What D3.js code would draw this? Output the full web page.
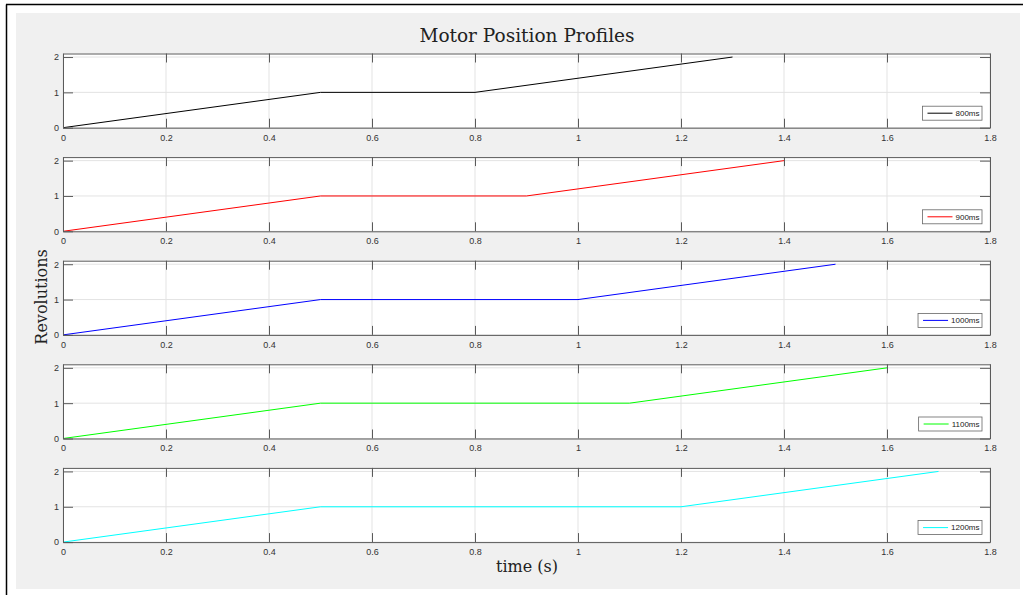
<!DOCTYPE html>
<html>
<head>
<meta charset="utf-8">
<script src="https://cdn.jsdelivr.net/npm/d3@7"></script>
<style>
  body { margin: 0; background: #fff; }
  svg { display: block; }
  .tick text { font-family: "Liberation Sans", Arial, sans-serif; font-size: 9px; fill: #333; }
</style>
</head>
<body>
<div id="chart"></div>
<script>
/* DATA */
const profileNames = ["800ms", "900ms", "1000ms", "1100ms", "1200ms"];
const lineColors = ["#000000", "#ff0000", "#0000ff", "#00ff00", "#00ffff"];
// time (s) of each corner of the profile
const timePoints = [
  [0, 0.5, 0.8, 1.3],
  [0, 0.5, 0.9, 1.4],
  [0, 0.5, 1.0, 1.5],
  [0, 0.5, 1.1, 1.6],
  [0, 0.5, 1.2, 1.7]
];
const revolutions = [0, 1, 1, 2];
const xTicks = [0, 0.2, 0.4, 0.6, 0.8, 1, 1.2, 1.4, 1.6, 1.8];
const yTicks = [0, 1, 2];

/* CONSTANTS */
const width = 1023;
const height = 595;
const left = 63, right = 990;
const panelTop = 53.5;
const panelH = 74.2;
const panelStep = 103.6;

const svg = d3.select("#chart").append("svg")
  .attr("width", width)
  .attr("height", height);

// figure background + frame
svg.append("rect").attr("x", 16).attr("y", 13).attr("width", 1004).attr("height", 576).attr("fill", "#f0f0f0");
svg.append("line").attr("x1", 6.5).attr("x2", 6.5).attr("y1", 4.5).attr("y2", 595).attr("stroke", "#000").attr("stroke-width", 1.5);
svg.append("line").attr("x1", 6).attr("x2", 1023).attr("y1", 4.5).attr("y2", 4.5).attr("stroke", "#000").attr("stroke-width", 1.5);

const xScale = d3.scaleLinear().domain([0, 1.8]).range([left, right]);
const fmt = d3.format("~g");

profileNames.forEach((name, i) => {
  const top = panelTop + i * panelStep;
  const bottom = top + panelH;
  const yScale = d3.scaleLinear().domain([0, 2.1]).range([bottom, top]);
  const g = svg.append("g");

  g.append("rect")
    .attr("x", left).attr("y", top)
    .attr("width", right - left).attr("height", panelH)
    .attr("fill", "#fff");

  // grid
  g.selectAll(".gx").data(xTicks).join("line")
    .attr("x1", d => xScale(d)).attr("x2", d => xScale(d))
    .attr("y1", top).attr("y2", bottom)
    .attr("stroke", "#e3e3e3").attr("stroke-width", 1);
  g.selectAll(".gy").data(yTicks).join("line")
    .attr("x1", left).attr("x2", right)
    .attr("y1", d => yScale(d)).attr("y2", d => yScale(d))
    .attr("stroke", "#e3e3e3").attr("stroke-width", 1);

  // data line
  const pts = timePoints[i].map((t, k) => [t, revolutions[k]]);
  g.append("path")
    .datum(pts)
    .attr("fill", "none")
    .attr("stroke", lineColors[i])
    .attr("stroke-width", 1)
    .attr("d", d3.line().x(d => xScale(d[0])).y(d => yScale(d[1])));

  // axes (MATLAB style: ticks inside, box on)
  const axColor = "#5a5a5a";
  const xAxis = g.append("g")
    .attr("transform", `translate(0,${bottom})`)
    .call(d3.axisBottom(xScale).tickValues(xTicks).tickFormat(fmt).tickSizeInner(-9).tickSizeOuter(0).tickPadding(6.5));
  const xAxisTop = g.append("g")
    .attr("transform", `translate(0,${top})`)
    .call(d3.axisTop(xScale).tickValues(xTicks).tickFormat("").tickSizeInner(-9).tickSizeOuter(0));
  const yAxis = g.append("g")
    .attr("transform", `translate(${left},0)`)
    .call(d3.axisLeft(yScale).tickValues(yTicks).tickFormat(fmt).tickSizeInner(-10).tickSizeOuter(0).tickPadding(4));
  const yAxisRight = g.append("g")
    .attr("transform", `translate(${right},0)`)
    .call(d3.axisRight(yScale).tickValues(yTicks).tickFormat("").tickSizeInner(-10).tickSizeOuter(0));
  [xAxis, xAxisTop, yAxis, yAxisRight].forEach(a => {
    a.selectAll("path").attr("stroke", axColor);
    a.selectAll("line").attr("stroke", axColor);
  });

  // legend, right edge fixed, widens to fit the label
  const lRight = 982, ly = bottom - 21.5;
  const box = g.append("rect");
  const label = g.append("text")
    .attr("x", lRight - 2.5).attr("y", ly + 9.8)
    .attr("text-anchor", "end")
    .attr("font-family", "Liberation Sans Narrow, Liberation Sans, Arial, sans-serif")
    .attr("font-size", 8)
    .attr("fill", "#222")
    .text(name);
  const tw = label.node().getComputedTextLength();
  const lineEnd = lRight - 2.5 - tw - 3;
  const lx = lineEnd - 30;
  box.attr("x", lx).attr("y", ly).attr("width", lRight - lx).attr("height", 14)
    .attr("fill", "#fff").attr("stroke", "#666").attr("stroke-width", 0.8);
  g.append("line")
    .attr("x1", lx + 5).attr("x2", lineEnd)
    .attr("y1", ly + 7).attr("y2", ly + 7)
    .attr("stroke", lineColors[i]).attr("stroke-width", 1);
});

// TITLE AND LABELS
svg.append("text")
  .attr("x", 527).attr("y", 42)
  .attr("text-anchor", "middle")
  .attr("font-family", "DejaVu Serif, serif")
  .attr("font-size", 18.5)
  .attr("fill", "#222")
  .text("Motor Position Profiles");

svg.append("text")
  .attr("transform", "translate(47,297) rotate(-90)")
  .attr("text-anchor", "middle")
  .attr("font-family", "DejaVu Serif, serif")
  .attr("font-size", 16)
  .attr("fill", "#222")
  .text("Revolutions");

svg.append("text")
  .attr("x", 527).attr("y", 572)
  .attr("text-anchor", "middle")
  .attr("font-family", "DejaVu Serif, serif")
  .attr("font-size", 16)
  .attr("fill", "#222")
  .text("time (s)");
</script>
</body>
</html>
